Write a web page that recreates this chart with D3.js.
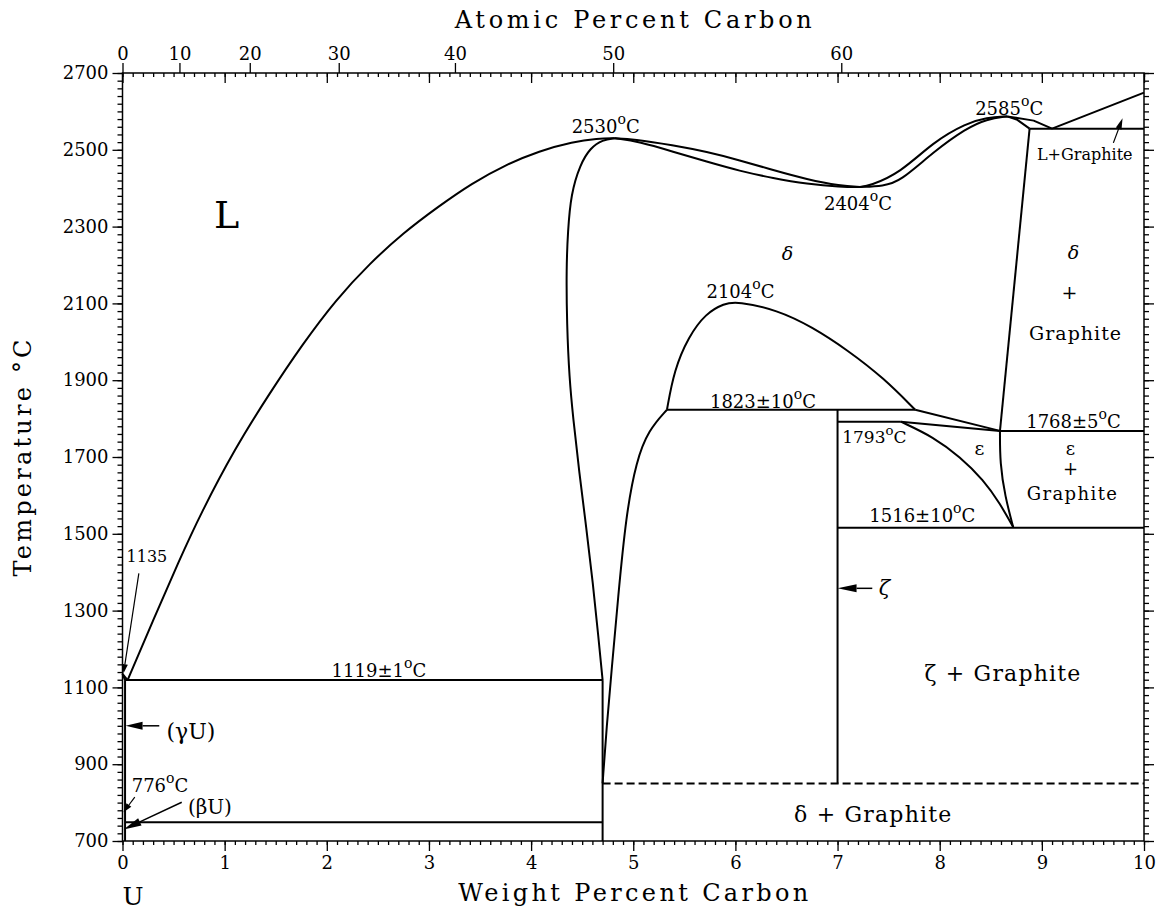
<!DOCTYPE html>
<html lang="en">
<head>
<meta charset="UTF-8">
<title>U-C Phase Diagram</title>
<script src="https://d3js.org/d3.v7.min.js"></script>
<style>
  body { margin: 0; background: #fff; }
  svg text { font-family: "DejaVu Serif", serif; fill: #000; }
  .phase { fill: none; stroke: #000; stroke-width: 2; stroke-linejoin: round; }
  .axis line { stroke: #000; stroke-width: 1.3; }
</style>
</head>
<body>
<svg width="1159" height="911"></svg>
<script>
// ---- data (weight % C, temperature in C) ----
const atomicTicks = [0, 10, 20, 30, 40, 50, 60];
const weightTicks = [0, 1, 2, 3, 4, 5, 6, 7, 8, 9, 10];
const tempTicks = [700, 900, 1100, 1300, 1500, 1700, 1900, 2100, 2300, 2500, 2700];

const liquidusU = [[0, 1135], [0.05, 1119]];
const solidusU = [[0, 1135], [0.025, 1119]];
const gammaSolvus = [[0.025, 1119], [0.025, 700]];
const liquidusLeft = [[0.05, 1119], [0.3, 1275], [0.55, 1428], [0.77, 1555], [1.1, 1722], [1.43, 1862],
  [1.76, 1993], [2.09, 2110], [2.42, 2204], [2.75, 2284], [3.09, 2352], [3.42, 2413], [3.75, 2461],
  [4.08, 2497], [4.41, 2521], [4.65, 2529], [4.82, 2530]];
const deltaLeftHigh = [[4.82, 2530], [4.70, 2526], [4.58, 2505], [4.48, 2462], [4.39, 2385], [4.36, 2288],
  [4.345, 2192], [4.35, 2047], [4.375, 1903], [4.41, 1806], [4.47, 1662], [4.54, 1517], [4.605, 1372],
  [4.66, 1228], [4.70, 1119]];
const deltaLeftLow = [[4.70, 850], [4.74, 1000], [4.79, 1150], [4.85, 1330], [4.93, 1550], [5.03, 1690],
  [5.15, 1770], [5.33, 1823]];
const dome = [[5.33, 1823], [5.40, 1926], [5.54, 2013], [5.71, 2074], [5.89, 2100], [6.02, 2105],
  [6.41, 2083], [6.75, 2039], [7.10, 1978], [7.45, 1906], [7.76, 1823]];
const liquidusMid1 = [[4.82, 2530], [5.0, 2528], [5.39, 2512], [5.72, 2495], [6.04, 2473], [6.37, 2447],
  [6.70, 2423], [7.03, 2406], [7.22, 2403]];
const solidusMid1 = [[4.82, 2530], [5.06, 2521], [5.39, 2495], [5.72, 2469], [6.04, 2445], [6.37, 2426],
  [6.70, 2411], [7.03, 2403], [7.22, 2403]];
const liquidusMid2 = [[7.22, 2403], [7.31, 2406], [7.61, 2439], [7.94, 2521], [8.26, 2569], [8.46, 2584], [8.66, 2587]];
const solidusMid2 = [[7.22, 2403], [7.45, 2406], [7.61, 2417], [7.94, 2495], [8.26, 2556], [8.46, 2580], [8.66, 2587]];
const solidusRight = [[8.66, 2587], [8.76, 2578], [8.88, 2555]];
const liquidusRight = [[8.66, 2587], [8.92, 2576], [9.10, 2555]];
const graphiteLiquidus = [[9.10, 2555], [10, 2649]];
const deltaRight = [[8.88, 2555], [8.59, 1768]];
const epsUpper = [[7.76, 1823], [8.59, 1768]];
const epsLower = [[7.62, 1792], [8.59, 1768]];
const epsLeft = [[7.62, 1792], [7.94, 1752], [8.20, 1700], [8.43, 1640], [8.59, 1579], [8.72, 1517]];
const epsRight = [[8.59, 1768], [8.59, 1684], [8.64, 1597], [8.72, 1517]];
const zetaLine = [[7.0, 1823], [7.0, 850]];
const leftDivider = [[4.70, 1119], [4.70, 700]];

// isotherms: [from wt%, to wt%, T]
const isotherms = [[0.025, 4.70, 1119], [0.025, 4.70, 749], [5.33, 7.76, 1823], [7.0, 7.62, 1792],
  [8.59, 10, 1768], [7.0, 10, 1516], [8.88, 10, 2555]];
const dashedIsotherm = [4.70, 10, 850];

// ---- layout ----
const svg = d3.select("svg");
const xScale = d3.scaleLinear().domain([0, 10]).range([122.5, 1144]);
const yScale = d3.scaleLinear().domain([700, 2700]).range([841, 73]);
const [x0, x1] = xScale.range();
const [yb, yt] = yScale.range();

function atToWt(a) {
  const mc = a * 12.011, mu = (100 - a) * 238.029;
  return 100 * mc / (mc + mu);
}

// axes
function styleAxis(g) {
  g.attr("class", "axis").attr("font-family", null).attr("font-size", null);
  g.select(".domain").remove();
  g.selectAll("text").style("font-size", "18px");
}
const minorT = d3.range(700, 2701, 20);
const minorW = d3.range(0, 10.001, 0.1).map(d => +d.toFixed(1));

svg.append("g").attr("transform", `translate(${x0},0)`)
  .call(d3.axisLeft(yScale).tickValues(minorT).tickSize(5).tickFormat("")).call(styleAxis);
svg.append("g").attr("transform", `translate(${x0},0)`)
  .call(d3.axisLeft(yScale).tickValues(tempTicks).tickSize(10).tickPadding(4).tickFormat(d3.format("d"))).call(styleAxis);
svg.append("g").attr("transform", `translate(${x1},0)`)
  .call(d3.axisRight(yScale).tickValues(minorT).tickSize(5).tickFormat("")).call(styleAxis);
svg.append("g").attr("transform", `translate(${x1},0)`)
  .call(d3.axisRight(yScale).tickValues(tempTicks).tickSize(10).tickFormat("")).call(styleAxis);

svg.append("g").attr("transform", `translate(0,${yb})`)
  .call(d3.axisBottom(xScale).tickValues(minorW).tickSize(4).tickFormat("")).call(styleAxis);
svg.append("g").attr("transform", `translate(0,${yb})`)
  .call(d3.axisBottom(xScale).tickValues(weightTicks).tickSize(10).tickPadding(5).tickFormat(d3.format("d"))).call(styleAxis);
svg.append("g").attr("transform", `translate(0,${yt})`)
  .call(d3.axisBottom(xScale).tickValues(minorW).tickSize(4).tickFormat("")).call(styleAxis);
svg.append("g").attr("transform", `translate(0,${yt})`)
  .call(d3.axisBottom(xScale).tickValues(weightTicks).tickSize(10).tickFormat("")).call(styleAxis);
svg.append("g").attr("transform", `translate(0,${yt})`)
  .call(d3.axisTop(xScale).tickValues(atomicTicks.map(atToWt)).tickSize(10).tickPadding(3)
    .tickFormat((d, i) => atomicTicks[i])).call(styleAxis);

svg.append("rect").attr("x", x0).attr("y", yt).attr("width", x1 - x0).attr("height", yb - yt)
  .attr("fill", "none").attr("stroke", "#000").attr("stroke-width", 1.5);

// axis titles
svg.append("text").attr("x", (x0 + x1) / 2).attr("y", 28).attr("text-anchor", "middle")
  .attr("font-size", 24).attr("textLength", 357).attr("lengthAdjust", "spacing").text("Atomic Percent Carbon");
svg.append("text").attr("x", (x0 + x1) / 2).attr("y", 901).attr("text-anchor", "middle")
  .attr("font-size", 24).attr("textLength", 350).attr("lengthAdjust", "spacing").text("Weight Percent Carbon");
svg.append("text").attr("transform", "translate(31,458) rotate(-90)").attr("text-anchor", "middle")
  .attr("font-size", 24).attr("textLength", 237).attr("lengthAdjust", "spacing").text("Temperature °C");
svg.append("text").attr("x", 133).attr("y", 905).attr("text-anchor", "middle").attr("font-size", 25).text("U");

// phase boundaries
const plot = svg.append("g");
const straight = d3.line().x(d => xScale(d[0])).y(d => yScale(d[1]));
const smooth = d3.line().x(d => xScale(d[0])).y(d => yScale(d[1])).curve(d3.curveBasis);

[liquidusLeft, deltaLeftHigh, deltaLeftLow, dome, liquidusMid1, solidusMid1, liquidusMid2, solidusMid2,
  epsLeft, epsRight].forEach(d => plot.append("path").attr("class", "phase").attr("d", smooth(d)));
[liquidusU, solidusU, gammaSolvus, solidusRight, liquidusRight, graphiteLiquidus, deltaRight, epsUpper,
  epsLower, zetaLine, leftDivider].forEach(d => plot.append("path").attr("class", "phase").attr("d", straight(d)));
isotherms.forEach(([a, b, t]) => plot.append("path").attr("class", "phase").attr("d", straight([[a, t], [b, t]])));
plot.append("path").attr("class", "phase").attr("stroke-dasharray", "8,4")
  .attr("d", straight([[dashedIsotherm[0], dashedIsotherm[2]], [dashedIsotherm[1], dashedIsotherm[2]]]));

// arrows (tail -> tip, data coords)
function arrow(a, b, len, wid, sw) {
  const xa = xScale(a[0]), ya = yScale(a[1]), xb = xScale(b[0]), yb2 = yScale(b[1]);
  const ang = Math.atan2(yb2 - ya, xb - xa);
  const bx = xb - len * Math.cos(ang), by = yb2 - len * Math.sin(ang);
  const nx = -Math.sin(ang) * wid / 2, ny = Math.cos(ang) * wid / 2;
  plot.append("line").attr("x1", xa).attr("y1", ya).attr("x2", bx).attr("y2", by)
    .attr("stroke", "#000").attr("stroke-width", sw);
  plot.append("path").attr("fill", "#000")
    .attr("d", `M${xb},${yb2}L${bx + nx},${by + ny}L${bx - nx},${by - ny}Z`);
}
arrow([0.16, 1397], [0.01, 1137], 9, 6, 1.2);
arrow([0.36, 1000], [0.03, 1000], 17, 8, 1.5);
arrow([0.12, 814], [0.01, 775], 9, 6, 1.2);
arrow([0.58, 801], [0.01, 730], 18, 8, 1.5);
arrow([7.34, 1358], [7.0, 1358], 19, 8, 1.5);
arrow([9.70, 2518], [9.79, 2582], 11, 6, 1.2);

// labels
function label(x, T, txt, size, opts = {}) {
  const t = plot.append("text").attr("x", xScale(x)).attr("y", yScale(T))
    .attr("text-anchor", opts.anchor || "middle").attr("font-size", size);
  if (opts.italic) t.attr("font-style", "italic");
  if (opts.ls) t.attr("letter-spacing", opts.ls);
  const parts = txt.split("^o");
  t.append("tspan").text(parts[0]);
  if (parts.length > 1) {
    t.append("tspan").attr("font-size", size * 0.78).attr("dy", -size * 0.5).text("o");
    t.append("tspan").attr("dy", size * 0.5).text(parts[1]);
  }
  return t;
}
label(1.02, 2296, "L", 38);
label(4.73, 2544, "2530^oC", 18);
label(7.20, 2343, "2404^oC", 18);
label(8.68, 2591, "2585^oC", 18);
label(9.42, 2473, "L+Graphite", 16);
label(6.51, 2213, "δ", 19, { italic: true });
label(9.31, 2215, "δ", 19, { italic: true });
label(9.27, 2111, "+", 19);
label(9.33, 2004, "Graphite", 19, { ls: 1 });
label(6.05, 2114, "2104^oC", 18);
label(6.27, 1827, "1823±10^oC", 18);
label(9.31, 1775, "1768±5^oC", 18);
label(7.36, 1736, "1793^oC", 17);
label(8.39, 1704, "ε", 19);
label(9.28, 1706, "ε", 18);
label(9.28, 1652, "+", 18);
label(9.30, 1588, "Graphite", 18, { ls: 1.4 });
label(7.83, 1530, "1516±10^oC", 18);
label(7.46, 1340, "ζ", 21, { italic: true });
label(8.62, 1116, "ζ + Graphite", 22, { ls: 1.2 });
label(7.35, 749, "δ + Graphite", 22, { ls: 1.2 });
label(2.51, 1126, "1119±1^oC", 18);
label(0.04, 1426, "1135", 16, { anchor: "start" });
label(0.43, 965, "(γU)", 22, { anchor: "start" });
label(0.09, 827, "776^oC", 18, { anchor: "start" });
label(0.64, 770, "(βU)", 20, { anchor: "start" });
</script>
</body>
</html>
